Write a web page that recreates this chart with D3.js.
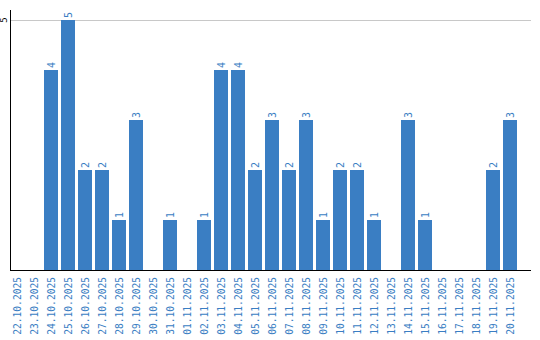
<!DOCTYPE html>
<html><head><meta charset="utf-8">
<script src="https://cdn.jsdelivr.net/npm/d3@7"></script>
<style>body{margin:0;background:#fff}svg{display:block}</style>
</head><body>
<script>
const categories = ["22.10.2025","23.10.2025","24.10.2025","25.10.2025","26.10.2025","27.10.2025","28.10.2025","29.10.2025","30.10.2025","31.10.2025","01.11.2025","02.11.2025","03.11.2025","04.11.2025","05.11.2025","06.11.2025","07.11.2025","08.11.2025","09.11.2025","10.11.2025","11.11.2025","12.11.2025","13.11.2025","14.11.2025","15.11.2025","16.11.2025","17.11.2025","18.11.2025","19.11.2025","20.11.2025"];
const values = [0,0,4,5,2,2,1,3,0,1,0,1,4,4,2,3,2,3,1,2,2,1,0,3,1,0,0,0,2,3];
const yTicks = [5];

const W = 540, H = 340;
const blue = "#3a7ec3";
const svg = d3.select("body").append("svg").attr("width", W).attr("height", H);

const x = d3.scaleBand().domain(categories).range([10, 517]).paddingInner(3/17).paddingOuter(0);
const y = d3.scaleLinear().domain([0, 5.2]).range([270, 10]);

// grid
svg.selectAll(".grid").data(yTicks).enter().append("line")
  .attr("x1", 10).attr("x2", 531)
  .attr("y1", d => Math.round(y(d)) + 0.5).attr("y2", d => Math.round(y(d)) + 0.5)
  .attr("stroke", "#c8c8c8").attr("stroke-width", 1);

// bars
svg.selectAll(".bar").data(values).enter().append("rect")
  .attr("x", (d, i) => x(categories[i]))
  .attr("width", x.bandwidth())
  .attr("y", d => y(d))
  .attr("height", d => y(0) - y(d))
  .attr("fill", blue);

// value labels
svg.selectAll(".val").data(values.map((v, i) => ({v, c: categories[i]})).filter(d => d.v > 0))
  .enter().append("text")
  .attr("transform", d => `translate(${x(d.c) + x.bandwidth()/2 + 3.5},${y(d.v) - 2}) rotate(-90)`)
  .attr("text-anchor", "start")
  .attr("font-family", "DejaVu Sans Mono, monospace")
  .attr("font-size", 10)
  .attr("fill", blue)
  .text(d => d.v);

// y axis
svg.append("line").attr("x1", 10.5).attr("x2", 10.5).attr("y1", 10).attr("y2", 270).attr("stroke", "#000");
svg.selectAll(".ytl").data(yTicks).enter().append("text")
  .attr("transform", d => `translate(7,${y(d)}) rotate(-90)`)
  .attr("text-anchor", "middle")
  .attr("font-family", "DejaVu Sans Mono, monospace")
  .attr("font-size", 9)
  .attr("fill", "#000")
  .text(d => d);

// x axis
svg.append("line").attr("x1", 10).attr("x2", 531).attr("y1", 270.5).attr("y2", 270.5).attr("stroke", "#000");
svg.selectAll(".xtl").data(categories).enter().append("text")
  .attr("transform", d => `translate(${x(d) + x.bandwidth()/2 + 3.5},277) rotate(-90)`)
  .attr("text-anchor", "end")
  .attr("font-family", "DejaVu Sans Mono, monospace")
  .attr("font-size", 9.6)
  .attr("fill", blue)
  .text(d => d);
</script>
</body></html>
